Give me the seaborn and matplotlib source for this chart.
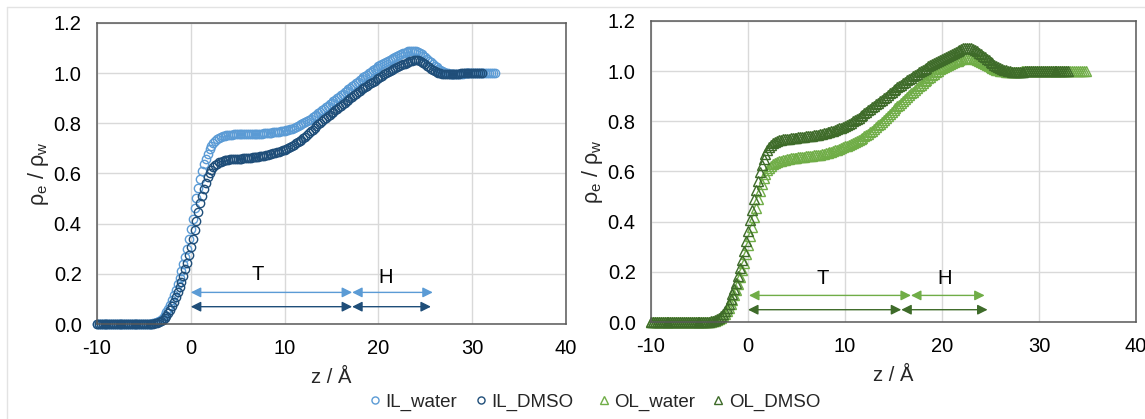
import numpy as np
import pandas as pd
import matplotlib
matplotlib.use("Agg")
import matplotlib.pyplot as plt
from matplotlib.lines import Line2D
from matplotlib.ticker import FormatStrFormatter
import seaborn as sns

# ---------------- data (z grid: start -10 Å, step 0.2 Å) ----------------
Z_START = -10.0
Z_STEP = 0.2

il_water = [
    0.000, 0.000, 0.000, 0.000, 0.000, 0.000, 0.000, 0.000, 0.000, 0.000,
    0.000, 0.000, 0.000, 0.000, 0.000, 0.000, 0.000, 0.000, 0.000, 0.000,
    0.000, 0.000, 0.000, 0.000, 0.000, 0.000, 0.000, 0.000, 0.000,
    0.001, 0.002, 0.004, 0.007, 0.011, 0.017, 0.025, 0.035, 0.047, 0.061,
    0.077, 0.095, 0.115, 0.137, 0.160, 0.184, 0.210, 0.238, 0.268, 0.300,
    0.337, 0.378, 0.420, 0.462, 0.503, 0.542, 0.578, 0.609, 0.636, 0.659,
    0.679, 0.696, 0.710, 0.721, 0.730, 0.737, 0.742, 0.746, 0.749, 0.751,
    0.753, 0.754, 0.755, 0.755, 0.756, 0.756, 0.756, 0.757, 0.757, 0.757,
    0.757, 0.757, 0.757, 0.758, 0.758, 0.758, 0.758, 0.759, 0.759, 0.759,
    0.760, 0.760, 0.761, 0.762, 0.763, 0.764, 0.765, 0.766, 0.767, 0.768,
    0.769, 0.770, 0.772, 0.774, 0.776, 0.779, 0.782, 0.785, 0.788, 0.792,
    0.796, 0.800, 0.805, 0.809, 0.814, 0.819, 0.824, 0.830, 0.835, 0.841,
    0.846, 0.852, 0.858, 0.864, 0.870, 0.876, 0.882, 0.888, 0.894, 0.900,
    0.906, 0.912, 0.918, 0.924, 0.930, 0.936, 0.942, 0.948, 0.954, 0.960,
    0.966, 0.972, 0.978, 0.983, 0.989, 0.994, 1.000, 1.005, 1.011, 1.016,
    1.022, 1.027, 1.032, 1.037, 1.041, 1.046, 1.050, 1.054, 1.058, 1.062,
    1.066, 1.070, 1.073, 1.076, 1.079, 1.082, 1.085, 1.087, 1.089, 1.090,
    1.090, 1.088, 1.085, 1.081, 1.076, 1.070, 1.064, 1.057, 1.050, 1.043,
    1.036, 1.030, 1.024, 1.018, 1.013, 1.009, 1.005, 1.002, 1.000, 0.998,
    0.997, 0.996, 0.996, 0.996, 0.997, 0.997, 0.998, 0.999, 0.999, 1.000,
    1.000, 1.000, 1.000, 1.000, 1.000, 1.000, 1.000, 1.000, 1.000, 1.000,
    1.000, 1.000, 1.000, 1.000,
]

il_dmso = [
    0.000, 0.000, 0.000, 0.000, 0.000, 0.000, 0.000, 0.000, 0.000, 0.000,
    0.000, 0.000, 0.000, 0.000, 0.000, 0.000, 0.000, 0.000, 0.000, 0.000,
    0.000, 0.000, 0.000, 0.000, 0.000, 0.000, 0.000, 0.000, 0.000, 0.000,
    0.001, 0.002, 0.004, 0.007, 0.011, 0.016, 0.023, 0.032, 0.043, 0.056,
    0.071, 0.088, 0.106, 0.126, 0.147, 0.169, 0.193, 0.218, 0.245, 0.274,
    0.306, 0.340, 0.376, 0.412, 0.447, 0.481, 0.512, 0.540, 0.564, 0.585,
    0.602, 0.615, 0.625, 0.633, 0.639, 0.644, 0.647, 0.650, 0.652, 0.654,
    0.655, 0.656, 0.657, 0.657, 0.658, 0.658, 0.659, 0.659, 0.660, 0.660,
    0.661, 0.662, 0.663, 0.664, 0.665, 0.666, 0.667, 0.668, 0.670, 0.671,
    0.673, 0.675, 0.677, 0.679, 0.681, 0.683, 0.685, 0.687, 0.690, 0.692,
    0.695, 0.698, 0.702, 0.706, 0.710, 0.715, 0.720, 0.725, 0.730, 0.735,
    0.741, 0.747, 0.754, 0.761, 0.768, 0.775, 0.782, 0.789, 0.796, 0.803,
    0.810, 0.816, 0.822, 0.828, 0.834, 0.840, 0.846, 0.852, 0.858, 0.864,
    0.870, 0.876, 0.882, 0.888, 0.894, 0.900, 0.906, 0.912, 0.918, 0.924,
    0.930, 0.935, 0.940, 0.945, 0.950, 0.955, 0.960, 0.965, 0.970, 0.975,
    0.980, 0.985, 0.990, 0.995, 1.000, 1.005, 1.009, 1.013, 1.017, 1.021,
    1.025, 1.029, 1.032, 1.035, 1.038, 1.041, 1.044, 1.047, 1.049, 1.051,
    1.052, 1.051, 1.049, 1.045, 1.040, 1.035, 1.029, 1.023, 1.017, 1.012,
    1.008, 1.004, 1.001, 0.999, 0.997, 0.996, 0.995, 0.995, 0.995, 0.995,
    0.996, 0.996, 0.997, 0.998, 0.999, 0.999, 1.000,
    1.000, 1.000, 1.000, 1.000, 1.000, 1.000, 1.000, 1.000, 1.000,
]

ol_water = [
    0.000, 0.000, 0.000, 0.000, 0.000, 0.000, 0.000, 0.000, 0.000, 0.000,
    0.000, 0.000, 0.000, 0.000, 0.000, 0.000, 0.000, 0.000, 0.000, 0.000,
    0.000, 0.000, 0.000, 0.000, 0.000, 0.000, 0.000, 0.000, 0.000, 0.000,
    0.000,
    0.001, 0.002, 0.004, 0.007, 0.011, 0.016, 0.023, 0.032, 0.043, 0.056,
    0.071, 0.088, 0.107, 0.128, 0.152, 0.178, 0.206, 0.237, 0.270, 0.305,
    0.342, 0.380, 0.418, 0.455, 0.490, 0.522, 0.550, 0.574, 0.592, 0.605,
    0.615, 0.622, 0.628, 0.633, 0.637, 0.640, 0.643, 0.645, 0.647, 0.649,
    0.650, 0.652, 0.653, 0.654, 0.655, 0.656, 0.657, 0.658, 0.659, 0.660,
    0.661, 0.662, 0.663, 0.664, 0.665, 0.666, 0.667, 0.669, 0.671, 0.673,
    0.675, 0.677, 0.679, 0.681, 0.684, 0.687, 0.690, 0.693, 0.696, 0.700,
    0.703, 0.707, 0.710, 0.714, 0.718, 0.722, 0.726, 0.730, 0.735, 0.740,
    0.745, 0.751, 0.757, 0.763, 0.770, 0.777, 0.784, 0.791, 0.798, 0.805,
    0.813, 0.821, 0.829, 0.837, 0.845, 0.852, 0.860, 0.867, 0.875, 0.882,
    0.889, 0.897, 0.904, 0.911, 0.918, 0.925, 0.932, 0.939, 0.945, 0.952,
    0.959, 0.965, 0.972, 0.978, 0.985, 0.990, 0.996, 1.001, 1.007, 1.012,
    1.016, 1.020, 1.025, 1.029, 1.033, 1.036, 1.039, 1.042, 1.045, 1.047,
    1.049, 1.051, 1.052, 1.052, 1.051, 1.049, 1.047, 1.044, 1.041, 1.037,
    1.033, 1.029, 1.025, 1.021, 1.017, 1.013, 1.009, 1.006, 1.004, 1.002,
    1.000, 0.999, 0.998, 0.997, 0.997, 0.997, 0.997, 0.998, 0.998, 0.998,
    0.999, 0.999, 0.999, 1.000,
    1.000, 1.000, 1.000, 1.000, 1.000, 1.000, 1.000, 1.000, 1.000, 1.000,
    1.000, 1.000, 1.000, 1.000, 1.000, 1.000, 1.000, 1.000, 1.000, 1.000,
    1.000, 1.000, 1.000, 1.000, 1.000, 1.000, 1.000, 1.000, 1.000, 1.000,
]

ol_dmso = [
    0.000, 0.000, 0.000, 0.000, 0.000, 0.000, 0.000, 0.000, 0.000, 0.000,
    0.000, 0.000, 0.000, 0.000, 0.000, 0.000, 0.000, 0.000, 0.000, 0.000,
    0.000, 0.000, 0.000, 0.000, 0.000, 0.000, 0.000, 0.000, 0.000, 0.000,
    0.001, 0.002, 0.004, 0.007, 0.011, 0.017, 0.024, 0.033, 0.044, 0.057,
    0.072, 0.090, 0.110, 0.132, 0.157, 0.185, 0.215, 0.248, 0.284, 0.323,
    0.364, 0.406, 0.448, 0.489, 0.528, 0.564, 0.597, 0.626, 0.650, 0.670,
    0.686, 0.698, 0.707, 0.713, 0.718, 0.721, 0.724, 0.726, 0.728, 0.729,
    0.730, 0.731, 0.732, 0.733, 0.734, 0.735, 0.736, 0.737, 0.738, 0.739,
    0.740, 0.741, 0.742, 0.743, 0.745, 0.746, 0.747, 0.749, 0.750, 0.752,
    0.754, 0.756, 0.758, 0.760, 0.763, 0.766, 0.769, 0.772, 0.775, 0.779,
    0.783, 0.787, 0.791, 0.795, 0.800, 0.805, 0.810, 0.815, 0.820, 0.826,
    0.832, 0.838, 0.844, 0.850, 0.856, 0.862, 0.868, 0.874, 0.880, 0.887,
    0.893, 0.899, 0.905, 0.911, 0.917, 0.923, 0.929, 0.935, 0.941, 0.946,
    0.952, 0.958, 0.963, 0.969, 0.974, 0.980, 0.985, 0.990, 0.995, 1.000,
    1.005, 1.010, 1.014, 1.019, 1.023, 1.028, 1.032, 1.036, 1.040, 1.044,
    1.048, 1.052, 1.056, 1.060, 1.064, 1.068, 1.072, 1.076, 1.080, 1.084,
    1.088, 1.091, 1.093, 1.094, 1.093, 1.091, 1.088, 1.084, 1.079, 1.073,
    1.067, 1.061, 1.055, 1.049, 1.043, 1.037, 1.032, 1.026, 1.021, 1.017,
    1.013, 1.009, 1.006, 1.003, 1.001, 0.999, 0.998, 0.997, 0.997, 0.997,
    0.997, 0.998, 0.998, 0.999, 0.999, 1.000,
    1.000, 1.000, 1.000, 1.000, 1.000, 1.000, 1.000, 1.000, 1.000, 1.000,
    1.000, 1.000, 1.000, 1.000, 1.000, 1.000, 1.000, 1.000, 1.000, 1.000,
]

series_names = ["IL_water", "IL_DMSO", "OL_water", "OL_DMSO"]
series_values = [il_water, il_dmso, ol_water, ol_dmso]

# thickness annotations (T = tail, H = head) per series: (start, end) in Å
arrow_levels = {"IL_water": 0.126, "IL_DMSO": 0.069, "OL_water": 0.106, "OL_DMSO": 0.049}
t_ranges = {"IL_water": (0.0, 17.2), "IL_DMSO": (0.0, 17.2),
            "OL_water": (0.1, 16.8), "OL_DMSO": (0.0, 15.8)}
h_ranges = {"IL_water": (17.2, 25.8), "IL_DMSO": (17.2, 25.6),
            "OL_water": (16.8, 24.4), "OL_DMSO": (15.8, 24.7)}
label_pos_left = {"T": (7.1, 0.198), "H": (20.8, 0.187)}
label_pos_right = {"T": (7.7, 0.174), "H": (20.3, 0.172)}

x_ticks = [-10, 0, 10, 20, 30, 40]
y_ticks = [0.0, 0.2, 0.4, 0.6, 0.8, 1.0, 1.2]

# ---------------- build long dataframe ----------------
frames = []
for name, vals in zip(series_names, series_values):
    z = Z_START + Z_STEP * np.arange(len(vals))
    frames.append(pd.DataFrame({"z": np.round(z, 2), "rho": vals, "series": name}))
df = pd.concat(frames, ignore_index=True)

colors = {"IL_water": "#5B9BD5", "IL_DMSO": "#1F4E79",
          "OL_water": "#70AD47", "OL_DMSO": "#3E6B29"}
markers = {"IL_water": "o", "IL_DMSO": "o", "OL_water": "^", "OL_DMSO": "^"}

sns.set_style("white")
plt.rcParams["font.family"] = ["Liberation Sans", "DejaVu Sans"]
plt.rcParams["mathtext.default"] = "regular"
plt.rcParams["axes.unicode_minus"] = False

FS = 14.5
LFS = 13.5
fig = plt.figure(figsize=(11.45, 4.19), dpi=100)
W, H = 1145.0, 419.0
ax1 = fig.add_axes([97 / W, 95 / H, 469 / W, 301 / H])
ax2 = fig.add_axes([651 / W, 97 / H, 485 / W, 301 / H])

# faint chart-area frame lines
fig.add_artist(Line2D([7 / W, 1.0], [1 - 7 / H, 1 - 7 / H], transform=fig.transFigure,
                      color="#e3e3e3", lw=1))
fig.add_artist(Line2D([7 / W, 7 / W], [0.0, 1 - 7 / H], transform=fig.transFigure,
                      color="#e3e3e3", lw=1))

panels = [(ax1, ["IL_water", "IL_DMSO"], label_pos_left),
          (ax2, ["OL_water", "OL_DMSO"], label_pos_right)]

for ax, names, lab_pos in panels:
    for name in names:
        sub = df[df["series"] == name]
        c = colors[name]
        ms = 6.0 if markers[name] == "o" else 6.6
        sns.lineplot(data=sub, x="z", y="rho", ax=ax, sort=False, estimator=None,
                     errorbar=None, linestyle="", marker=markers[name], markersize=ms,
                     markerfacecolor="none", markeredgecolor=c, markeredgewidth=1.0,
                     color=c, label=name, clip_on=False)
    leg = ax.get_legend()
    if leg is not None:
        leg.remove()

    for name in names:
        c = colors[name]
        yv = arrow_levels[name]
        for (a, b) in (t_ranges[name], h_ranges[name]):
            ax.annotate("", xy=(b, yv), xytext=(a, yv),
                        arrowprops=dict(arrowstyle="<|-|>", color=c, lw=1.0,
                                        shrinkA=0, shrinkB=0, mutation_scale=15))
    for txt, (tx, ty) in lab_pos.items():
        ax.text(tx, ty, txt, ha="center", va="center", fontsize=FS, color="black")

    ax.set_xlim(-10, 40)
    ax.set_ylim(0, 1.2)
    ax.set_xticks(x_ticks)
    ax.set_yticks(y_ticks)
    ax.yaxis.set_major_formatter(FormatStrFormatter("%.1f"))
    ax.grid(True, color="#d9d9d9", lw=1.0)
    ax.set_axisbelow(True)
    for sp in ax.spines.values():
        sp.set_visible(True)
        sp.set_color("#595959")
        sp.set_linewidth(1.1)
    ax.tick_params(axis="both", direction="in", length=4, width=1, color="#595959",
                   labelsize=FS, pad=11, labelcolor="black")
    ax.set_xlabel("z / Å", fontsize=FS, labelpad=7)
    ax.set_ylabel("ρ$_{e}$ / ρ$_{w}$", fontsize=FS + 1, labelpad=2)

# legends (one per panel, placed at the bottom centre)
h1, l1 = ax1.get_legend_handles_labels()
h2, l2 = ax2.get_legend_handles_labels()
legkw = dict(ncol=2, frameon=False, fontsize=LFS, handlelength=0.5, handletextpad=0.3,
             columnspacing=1.0, borderaxespad=0, borderpad=0, markerscale=0.85)
fig.legend(h1, l1, loc="center right", bbox_to_anchor=(573 / W, 1 - 402 / H), **legkw)
fig.legend(h2, l2, loc="center left", bbox_to_anchor=(599 / W, 1 - 402 / H), **legkw)

fig.savefig("out.png", dpi=100)
